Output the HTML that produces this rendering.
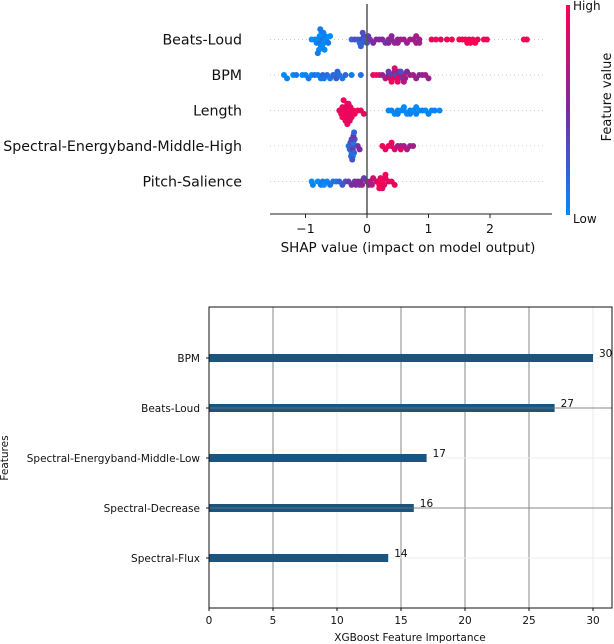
<!DOCTYPE html>
<html><head><meta charset="utf-8"><style>
html,body{margin:0;padding:0;background:#fff;width:614px;height:644px;overflow:hidden}
svg text{font-family:"DejaVu Sans","Liberation Sans",sans-serif}
</style></head><body>
<svg id="s" width="614" height="644" viewBox="0 0 614 644" xmlns="http://www.w3.org/2000/svg">
<defs><linearGradient id="cb" x1="0" y1="1" x2="0" y2="0">
<stop offset="0" stop-color="#008bfb"/><stop offset="0.5" stop-color="#7c2a9e"/><stop offset="1" stop-color="#ff0052"/></linearGradient></defs>
<g id="topchart"></g>
<g id="botchart"></g>
</svg>
<script>
// ---- SHAP beeswarm data ----
const shapFeatures = ["Beats-Loud","BPM","Length","Spectral-Energyband-Middle-High","Pitch-Salience"];
const shapBeats = [-0.9,-0.85,-0.82,-0.8,-0.78,-0.77,-0.75,-0.74,-0.72,-0.7,-0.68,-0.66,-0.63,-0.6,-0.78,-0.76,-0.73,-0.71,-0.8,-0.69,
 -0.25,-0.2,-0.15,-0.12,-0.1,-0.08,-0.05,-0.03,0.0,0.02,-0.1,-0.07,0.05,0.1,0.15,0.2,0.25,0.3,0.35,0.4,0.45,0.5,0.55,0.6,0.65,0.7,0.75,0.8,0.85,0.35,0.4,0.5,0.8,0.85,
 1.05,1.12,1.2,1.3,1.38,1.5,1.55,1.6,1.63,1.66,1.68,1.72,1.76,1.8,1.9,1.95,2.55,2.6];
const featBeats = [0,0,0.05,0,0.1,0,0.05,0,0.1,0,0.05,0,0.1,0,0,0.1,0,0.05,0.1,0,
 0.2,0.3,0.25,0.15,0.3,0.2,0.35,0.25,0.3,0.4,0.2,0.3,0.45,0.5,0.5,0.55,0.5,0.45,0.6,0.55,0.6,0.55,0.6,0.65,0.6,0.65,0.6,0.7,0.65,0.5,0.55,0.6,0.65,0.6,
 0.9,0.95,0.9,0.95,1,0.95,1,0.95,1,0.95,1,0.95,1,0.95,1,0.95,1,0.95];
const shapBPM = [-1.35,-1.3,-1.2,-1.15,-1.05,-1.0,-0.95,-0.9,-0.85,-0.8,-0.75,-0.72,-0.7,-0.65,-0.6,-0.55,-0.52,-0.5,-0.48,-0.45,-0.4,-0.35,-0.25,-0.1,
 0.1,0.15,0.2,0.25,0.3,0.35,0.38,0.4,0.42,0.45,0.48,0.5,0.52,0.55,0.58,0.6,0.62,0.65,0.7,0.75,0.8,0.85,0.9,0.95,1.0,0.4,0.5,0.55,0.45,0.35,0.6];
const featBPM = [0,0.05,0,0.1,0,0.05,0.1,0,0.15,0.05,0.1,0.2,0.1,0.15,0.1,0.2,0.15,0.25,0.2,0.15,0.1,0.2,0.1,0.15,
 0.9,0.95,0.85,0.6,0.7,0.5,0.9,0.4,0.8,0.6,0.35,0.9,0.55,0.7,0.45,0.8,0.6,0.5,0.6,0.65,0.6,0.55,0.6,0.65,0.6,0.95,0.9,0.3,0.85,0.4,0.7];
const shapLength = [-0.45,-0.42,-0.4,-0.38,-0.36,-0.35,-0.33,-0.32,-0.3,-0.28,-0.27,-0.25,-0.22,-0.2,-0.35,-0.3,-0.38,-0.32,-0.28,-0.4,-0.15,-0.1,-0.05,
 0.35,0.4,0.45,0.5,0.55,0.6,0.65,0.7,0.75,0.8,0.85,0.9,0.95,1.0,1.05,1.1,1.18,0.5,0.6,0.7,0.8];
const featLength = [0.9,0.95,0.9,0.92,0.95,0.9,0.93,0.9,0.95,0.9,0.92,0.95,0.9,0.95,0.93,0.9,0.95,0.92,0.9,0.95,0.95,0.9,0.95,
 0,0.05,0,0.05,0,0.05,0,0.05,0,0.05,0,0.05,0,0.05,0,0.05,0,0.05,0,0.05,0];
const shapSEMH = [-0.3,-0.28,-0.27,-0.25,-0.24,-0.23,-0.22,-0.21,-0.2,-0.25,-0.23,-0.22,-0.26,-0.24,-0.21,-0.15,-0.12,
 0.25,0.3,0.35,0.4,0.45,0.5,0.55,0.6,0.65,0.7,0.75,0.4,0.55];
const featSEMH = [0.1,0.2,0.3,0.15,0.25,0.4,0.1,0.2,0.3,0.35,0.05,0.45,0.15,0.3,0.2,0.45,0.5,
 0.95,0.9,0.95,0.9,0.85,0.7,0.6,0.65,0.7,0.6,0.65,0.95,0.9];
const shapPitch = [-0.9,-0.88,-0.8,-0.75,-0.72,-0.7,-0.65,-0.6,-0.55,-0.5,-0.45,-0.4,-0.35,-0.3,-0.25,-0.2,-0.18,-0.15,-0.12,-0.1,-0.08,-0.05,
 0.0,0.03,0.05,0.08,0.1,0.15,0.18,0.2,0.22,0.25,0.28,0.3,0.35,0.4,0.45,0.25,0.2,0.3];
const featPitch = [0,0.05,0,0.05,0.1,0,0.05,0.1,0.15,0.1,0.2,0.25,0.3,0.4,0.5,0.45,0.55,0.5,0.45,0.5,0.6,0.4,
 0.6,0.55,0.65,0.7,0.8,0.85,0.9,0.95,0.9,1,0.95,0.9,0.85,0.95,0.9,0.8,1,0.95];
const shapTicks = [-1,0,1,2];

// ---- XGBoost importance data ----
const impFeatures = ["BPM","Beats-Loud","Spectral-Energyband-Middle-Low","Spectral-Decrease","Spectral-Flux"];
const impValues = [30,27,17,16,14];
const impTicks = [0,5,10,15,20,25,30];

const NS="http://www.w3.org/2000/svg";
function mk(parent,tag,attrs,txt){const e=document.createElementNS(NS,tag);for(const k in attrs)e.setAttribute(k,attrs[k]);if(txt!==undefined)e.textContent=txt;parent.appendChild(e);return e;}
function lerp(a,b,t){return Math.round(a+(b-a)*t);}
function cmap(v){const lo=[0,139,251],mid=[124,42,158],hi=[255,0,82];let a,b,t;if(v<0.5){a=lo;b=mid;t=v/0.5;}else{a=mid;b=hi;t=(v-0.5)/0.5;}return `rgb(${lerp(a[0],b[0],t)},${lerp(a[1],b[1],t)},${lerp(a[2],b[2],t)})`;}

// ===== top chart =====
const topG=document.getElementById('topchart');
const sx=v=>367+v*61.5;
const rowY=i=>39.5+i*35.5;
const allShap=[shapBeats,shapBPM,shapLength,shapSEMH,shapPitch];
const allFeat=[featBeats,featBPM,featLength,featSEMH,featPitch];
shapFeatures.forEach((f,i)=>{
  const y=rowY(i);
  const dl=mk(topG,'line',{x1:270,x2:545,y1:y,y2:y,stroke:'#ccc','stroke-dasharray':'1,3','stroke-width':1});
  
  
  const t=mk(topG,'text',{x:242,y:y+5,'text-anchor':'end','font-size':14.2,fill:'#111'},f);
  
  
  const bins={};
  const vals=allShap[i],fv=allFeat[i];
  vals.forEach((v,j)=>{
    const b=Math.round(v/0.07);const n=bins[b]||0;bins[b]=n+1;
    const off=(n===0?0:(n%2?1:-1)*Math.ceil(n/2)*3.4);
    const c=mk(topG,'circle',{cx:sx(v),cy:y+off,r:3,fill:cmap(fv[j])});
    
    
  });
});
const zl=mk(topG,'line',{x1:sx(0),x2:sx(0),y1:4,y2:214,stroke:'#555','stroke-width':1.5});


const ax=mk(topG,'line',{x1:270,x2:552,y1:214,y2:214,stroke:'#222','stroke-width':1});


shapTicks.forEach(v=>{
  const tk=mk(topG,'line',{x1:sx(v),x2:sx(v),y1:214,y2:218,stroke:'#222'});
  
  
  const tl=mk(topG,'text',{x:sx(v),y:233,'text-anchor':'middle','font-size':12.5,fill:'#111'},v<0?'\u2212'+Math.abs(v):String(v));
  
  
});
const xt=mk(topG,'text',{x:408,y:252,'text-anchor':'middle','font-size':13.5,fill:'#111'},'SHAP value (impact on model output)');


const cb=mk(topG,'rect',{x:566,y:5,width:4,height:210,fill:'url(#cb)'});


const hi=mk(topG,'text',{x:573,y:10,'font-size':12,fill:'#111'},'High');


const lo=mk(topG,'text',{x:573,y:223,'font-size':12,fill:'#111'},'Low');


const fvt=mk(topG,'text',{x:0,y:0,'font-size':13,fill:'#111','text-anchor':'middle',transform:'translate(611,97) rotate(-90)'},'Feature value');



// ===== bottom chart =====
const botG=document.getElementById('botchart');
const L=209,R=612,T=307,B=608;
const bx=v=>L+v*12.8;
const barY=i=>358+i*50;
const gridDark=[5,15,20,25];
impTicks.forEach(v=>{
  if(v===0)return;
  const g=mk(botG,'line',{x1:bx(v),x2:bx(v),y1:T,y2:B,stroke:gridDark.includes(v)?'#888':'#e8e8e8','stroke-width':1});
  
  
});
impFeatures.forEach((f,i)=>{
  const y=barY(i);
  const g=mk(botG,'line',{x1:L,x2:R,y1:y,y2:y,stroke:(i===1||i===3)?'#888':'#eee','stroke-width':1});
  
  
});
impFeatures.forEach((f,i)=>{
  const y=barY(i);
  const b=mk(botG,'rect',{x:L,y:y-4,width:bx(impValues[i])-L,height:8,fill:'#1a5580'});
  
  
  if(i===1||i===3){const g=mk(botG,'line',{x1:L,x2:bx(impValues[i]),y1:y,y2:y,stroke:'#777','stroke-width':0.8});}
  const vl=mk(botG,'text',{x:bx(impValues[i])+6,y:y-1,'font-size':10.5,fill:'#111'},String(impValues[i]));
  
  
  const tl=mk(botG,'text',{x:200,y:y+4,'text-anchor':'end','font-size':10.5,fill:'#111'},f);
  
  
  const tk=mk(botG,'line',{x1:L-3,x2:L,y1:y,y2:y,stroke:'#111'});
  
  
});
const frame=mk(botG,'rect',{x:L,y:T,width:R-L,height:B-T,fill:'none',stroke:'#111','stroke-width':1});


impTicks.forEach(v=>{
  const tk=mk(botG,'line',{x1:bx(v),x2:bx(v),y1:B,y2:B+3,stroke:'#111'});
  
  
  const tl=mk(botG,'text',{x:bx(v),y:624,'text-anchor':'middle','font-size':10.5,fill:'#111'},String(v));
  
  
});
const bxt=mk(botG,'text',{x:410,y:641,'text-anchor':'middle','font-size':10.5,fill:'#111'},'XGBoost Feature Importance');


const byt=mk(botG,'text',{x:0,y:0,'font-size':10.5,fill:'#111','text-anchor':'middle',transform:'translate(8,458) rotate(-90)'},'Features');


</script>
</body></html>
